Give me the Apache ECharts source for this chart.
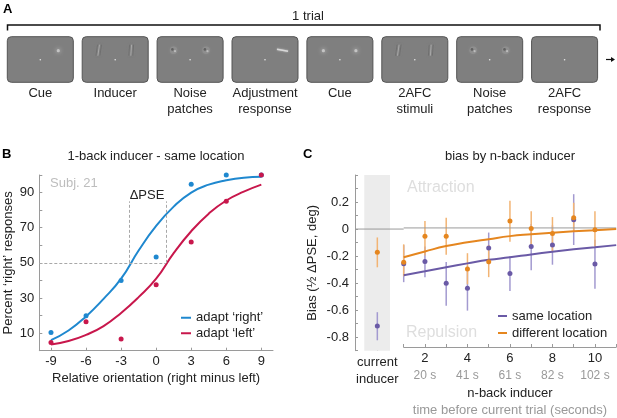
<!DOCTYPE html>
<html>
<head>
<meta charset="utf-8">
<script src="https://cdn.jsdelivr.net/npm/echarts@6.0.0/dist/echarts.min.js"></script>
<style>
  html, body { margin: 0; padding: 0; background: #fff; }
  #chart { width: 617px; height: 418px; }
</style>
</head>
<body>
<div id="chart"></div>
<script>
// ---- panel A: trial sequence ----
const frameLabels = ['Cue', 'Inducer', 'Noise\npatches', 'Adjustment\nresponse', 'Cue', '2AFC\nstimuli', 'Noise\npatches', '2AFC\nresponse'];
const frameStimuli = ['cue1', 'gabor', 'noise', 'adjust', 'cue2', 'gabor', 'noise', 'none'];

// ---- panel B: psychometric curves, subject 21 ----
const orientations = [-9, -6, -3, 0, 3, 6, 9];
const adaptRight = [10.3, 19.9, 40, 53.4, 94.7, 100, 100];
const adaptLeft = [4.6, 16.5, 6.7, 37.6, 61.8, 85, 100];
const fitOrient = [-9, -7.5, -6, -4.5, -3, -1.5, 0, 1.5, 3, 4.5, 6, 7.5, 9];
const adaptRightFit = [6, 11.5, 19.5, 29.5, 41, 57, 71, 82, 90, 94.5, 97, 98.5, 99];
const adaptLeftFit = [3.5, 5.5, 9, 14, 21.5, 30.5, 41, 55.5, 68, 78, 85.5, 90.5, 94.5];
const pseRight = -2.3;
const pseLeft = 0.84;
const pseTop = 85;

// ---- panel C: bias by n-back inducer ----
const nBack = [1, 2, 3, 4, 5, 6, 7, 8, 9, 10];
const sameMean = [-0.27, -0.253, -0.419, -0.456, -0.151, -0.345, -0.141, -0.129, 0.062, -0.273];
const sameLow = [-0.41, -0.372, -0.588, -0.625, -0.278, -0.476, -0.32, -0.278, -0.129, -0.46];
const sameHigh = [-0.13, -0.14, -0.258, -0.29, -0.035, -0.215, 0.03, 0.02, 0.255, -0.09];
const diffMean = [-0.26, -0.062, -0.062, -0.31, -0.256, 0.052, -0.005, -0.042, 0.077, -0.013];
const diffLow = [-0.365, -0.208, -0.203, -0.426, -0.372, -0.104, -0.141, -0.178, -0.03, -0.141];
const diffHigh = [-0.124, 0.052, 0.077, -0.191, -0.13, 0.205, 0.126, 0.082, 0.19, 0.126];
const fitN = [1, 2, 3, 4, 5, 6, 7, 8, 9, 10, 11];
const sameFit = [-0.357, -0.327, -0.297, -0.268, -0.241, -0.222, -0.2, -0.18, -0.162, -0.146, -0.13];
const diffFit = [-0.222, -0.178, -0.137, -0.109, -0.085, -0.062, -0.048, -0.036, -0.026, -0.018, -0.008];
const currentX = -0.24;
const currentSame = [-0.717, -0.823, -0.615]; // mean, low, high
const currentDiff = [-0.171, -0.283, -0.062];
const currentRange = [-1.29, 1];
const currentBand = [-0.854, 0.355];
const biasRange = [-0.9, 0.4];
const nBackTicks = [2, 4, 6, 8, 10];
const secondsLabels = ['20 s', '41 s', '61 s', '82 s', '102 s'];

const FONT = '"Liberation Sans", Arial, Helvetica, sans-serif';
const INK = '#222';
const AXIS = '#9a9a9a';
const BLUE = '#1f88cf';
const RED = '#c8174c';
const PURPLE = '#6a5aa6';
const ORANGE = '#e5861f';
const PURPLE_LIGHT = '#a39ad0';
const ORANGE_LIGHT = '#f2b474';

const zip = (xs, ys) => xs.map((x, i) => [x, ys[i]]);

// simple drawn stimuli inside the grey screens
function stimulusShapes(kind, x0, y0) {
  const L = [x0 + 16.5, y0 + 13.5];
  const R = [x0 + 49, y0 + 13.5];
  const blob = (p) => ({
    type: 'circle', shape: { cx: p[0], cy: p[1], r: 1.6 },
    style: { fill: '#c4c4c4', shadowBlur: 4, shadowColor: '#d8d8d8' }
  });
  const gabor = (p, tilt) => [-2, 0, 2].map((d, k) => ({
    type: 'line',
    shape: { x1: p[0] + d + tilt, y1: p[1] - 5.5, x2: p[0] + d - tilt, y2: p[1] + 5.5 },
    style: { stroke: k === 1 ? '#b4b4b4' : '#6a6a6a', lineWidth: 1, opacity: 0.8, shadowBlur: 2, shadowColor: '#888' }
  }));
  const noise = (p) => [
    { type: 'circle', shape: { cx: p[0], cy: p[1], r: 3.8 }, style: { fill: '#8f8f8f', shadowBlur: 3, shadowColor: '#8a8a8a' } },
    { type: 'circle', shape: { cx: p[0] - 1.2, cy: p[1] - 0.8, r: 1.3 }, style: { fill: '#555', opacity: 0.8 } },
    { type: 'circle', shape: { cx: p[0] + 1.4, cy: p[1] + 1, r: 1.1 }, style: { fill: '#c8c8c8', opacity: 0.8 } }
  ];
  switch (kind) {
    case 'cue1': return [blob([x0 + 51, y0 + 14])];
    case 'cue2': return [blob([L[0], L[1] + 0.5]), blob([R[0], R[1] + 0.5])];
    case 'gabor': return gabor(L, 0.8).concat(gabor(R, 0.4));
    case 'noise': return noise(L).concat(noise(R));
    case 'adjust': return [{
      type: 'line', shape: { x1: x0 + 45, y1: y0 + 12.5, x2: x0 + 56, y2: y0 + 14.5 },
      style: { stroke: '#d8d8d8', lineWidth: 1.4, shadowBlur: 2, shadowColor: '#ccc' }
    }];
    default: return [];
  }
}

function panelA() {
  const els = [];
  frameLabels.forEach((label, i) => {
    const x0 = 7.3 + i * 74.9;
    const y0 = 36.7;
    els.push({
      type: 'rect', shape: { x: x0, y: y0, width: 66, height: 45.6, r: 4 },
      style: { fill: '#7f7f7f', stroke: '#545454', lineWidth: 1 }
    });
    stimulusShapes(frameStimuli[i], x0, y0).forEach(s => els.push(s));
    els.push({ type: 'circle', shape: { cx: x0 + 33, cy: y0 + 23, r: 0.8 }, style: { fill: '#e8e8e8' } });
    els.push({
      type: 'text', x: x0 + 33, y: 86,
      style: { text: label, align: 'center', verticalAlign: 'top', fontSize: 13, lineHeight: 15.5, fill: INK, fontFamily: FONT }
    });
  });
  els.push({
    type: 'polyline', shape: { points: [[7.5, 30.5], [7.5, 25], [600, 25], [600, 30.5]] },
    style: { stroke: '#111', lineWidth: 1.5, fill: null }
  });
  els.push({
    type: 'text', x: 308, y: 16,
    style: { text: '1 trial', align: 'center', verticalAlign: 'middle', fontSize: 13, fill: INK, fontFamily: FONT }
  });
  els.push({ type: 'line', shape: { x1: 606, y1: 59.5, x2: 612, y2: 59.5 }, style: { stroke: '#111', lineWidth: 1.2 } });
  els.push({ type: 'polygon', shape: { points: [[611, 57], [615, 59.5], [611, 62]] }, style: { fill: '#111' } });
  return els;
}

function note(text, x, y, opts) {
  return {
    type: 'text', x: x, y: y,
    style: Object.assign({ text: text, verticalAlign: 'middle', fontSize: 13, fill: INK, fontFamily: FONT }, opts || {})
  };
}

function errorBar(color) {
  return function (params, api) {
    const hi = api.coord([api.value(0), api.value(2)]);
    const lo = api.coord([api.value(0), api.value(1)]);
    return {
      type: 'line',
      shape: { x1: hi[0], y1: hi[1], x2: lo[0], y2: lo[1] },
      style: { stroke: color, lineWidth: 1.5 }
    };
  };
}

// shaded column behind the current-inducer point, with the zero rule on top of it
function bandRect(params, api) {
  const tl = api.coord([api.value(0), biasRange[1]]);
  const br = api.coord([api.value(1), biasRange[0]]);
  const z0 = api.coord([currentRange[0], 0]);
  const z1 = api.coord([currentRange[1], 0]);
  return {
    type: 'group',
    children: [
      {
        type: 'rect',
        shape: { x: tl[0], y: tl[1], width: br[0] - tl[0], height: br[1] - tl[1] },
        style: { fill: '#ececec' }
      },
      {
        type: 'line', z2: 10,
        shape: { x1: z0[0], y1: z0[1], x2: z1[0], y2: z1[1] },
        style: { stroke: AXIS, lineWidth: 1 }
      }
    ]
  };
}

// horizontal reference line at zero, drawn from [xFrom, xTo]
function zeroRule(params, api) {
  const a = api.coord([api.value(0), 0]);
  const b = api.coord([api.value(1), 0]);
  return {
    type: 'line',
    shape: { x1: a[0], y1: a[1], x2: b[0], y2: b[1] },
    style: { stroke: AXIS, lineWidth: 1 }
  };
}

function zeroSeries(idx, range) {
  return {
    type: 'custom', xAxisIndex: idx, yAxisIndex: idx, z: 3, silent: true,
    renderItem: zeroRule, encode: { x: [0, 1] },
    data: [[range[0], range[1]]]
  };
}

const labelStyle = { color: INK, fontSize: 13, fontFamily: FONT };
const axisLineStyle = { onZero: false, lineStyle: { color: AXIS, width: 1 } };
const tickStyle = { inside: true, length: 3, lineStyle: { color: AXIS } };

const chart = echarts.init(document.getElementById('chart'), null, { renderer: 'canvas' });

const option = {
  animation: false,
  textStyle: { fontFamily: FONT },
  title: [
    { text: 'A', left: 3, top: 3, padding: 0, textStyle: { fontSize: 13, fontWeight: 'bold', color: '#000', fontFamily: FONT } },
    { text: 'B', left: 2, top: 148, padding: 0, textStyle: { fontSize: 13, fontWeight: 'bold', color: '#000', fontFamily: FONT } },
    { text: 'C', left: 303, top: 148, padding: 0, textStyle: { fontSize: 13, fontWeight: 'bold', color: '#000', fontFamily: FONT } },
    { text: '1-back inducer - same location', left: 156, top: 150, textAlign: 'center', padding: 0,
      textStyle: { fontSize: 13, fontWeight: 'normal', color: INK, fontFamily: FONT } },
    { text: 'bias by n-back inducer', left: 510, top: 150, textAlign: 'center', padding: 0,
      textStyle: { fontSize: 13, fontWeight: 'normal', color: INK, fontFamily: FONT } }
  ],
  legend: [
    {
      data: ['adapt ‘right’', 'adapt ‘left’'], orient: 'vertical', left: 181, top: 310, padding: 0,
      icon: 'rect', itemWidth: 10, itemHeight: 2, itemGap: 0,
      textStyle: { fontSize: 13, lineHeight: 15.5, color: INK, fontFamily: FONT }
    },
    {
      data: ['same location', 'different location'], orient: 'vertical', left: 498, top: 307.5, padding: 0,
      icon: 'rect', itemWidth: 9, itemHeight: 2, itemGap: 0,
      textStyle: { fontSize: 13, lineHeight: 17, color: INK, fontFamily: FONT }
    }
  ],
  grid: [
    { left: 39.3, top: 175, width: 233.7, height: 175.7 },
    { left: 355, top: 175, width: 48.7, height: 175.7 },
    { left: 403.7, top: 175, width: 212.5, height: 175.7 }
  ],
  xAxis: [
    {
      gridIndex: 0, type: 'value', min: -10, max: 10,
      axisLine: axisLineStyle, splitLine: { show: false },
      axisTick: Object.assign({ customValues: orientations }, tickStyle),
      axisLabel: Object.assign({ customValues: orientations, margin: 4 }, labelStyle),
      name: 'Relative orientation (right minus left)', nameLocation: 'middle', nameGap: 20,
      nameTextStyle: { fontSize: 13, color: INK, lineHeight: 15, fontFamily: FONT }
    },
    {
      gridIndex: 1, type: 'value', min: currentRange[0], max: currentRange[1],
      axisLine: { show: false, onZero: false }, splitLine: { show: false },
      axisTick: Object.assign({ customValues: [currentX] }, tickStyle),
      axisLabel: {
        customValues: [currentX], margin: 3, formatter: () => '{a|current}\n{a|inducer}',
        rich: { a: { fontSize: 13, color: INK, lineHeight: 17, fontFamily: FONT } }
      }
    },
    {
      gridIndex: 2, type: 'value', min: 1, max: 11, interval: 1,
      axisLine: axisLineStyle, splitLine: { show: false },
      axisTick: tickStyle,
      axisLabel: {
        customValues: nBackTicks, margin: 3,
        formatter: (v) => '{n|' + v + '}\n{s|' + secondsLabels[nBackTicks.indexOf(v)] + '}',
        rich: {
          n: { fontSize: 13, color: INK, lineHeight: 17, fontFamily: FONT },
          s: { fontSize: 12, color: '#999', lineHeight: 17, fontFamily: FONT }
        }
      },
      name: '{a|n-back inducer}\n{b|time before current trial (seconds)}',
      nameLocation: 'middle', nameGap: 38,
      nameTextStyle: {
        rich: {
          a: { fontSize: 13, color: INK, lineHeight: 17, fontFamily: FONT },
          b: { fontSize: 13, color: '#999', lineHeight: 17, fontFamily: FONT }
        }
      }
    }
  ],
  yAxis: [
    {
      gridIndex: 0, type: 'value', min: 0, max: 100, interval: 10,
      axisLine: Object.assign({ show: true }, axisLineStyle), splitLine: { show: false },
      axisTick: tickStyle,
      axisLabel: Object.assign({ customValues: [10, 30, 50, 70, 90], margin: 5 }, labelStyle),
      name: 'Percent ‘right’ responses', nameLocation: 'middle', nameGap: 24,
      nameTextStyle: { fontSize: 13, color: INK, fontFamily: FONT }
    },
    {
      gridIndex: 1, type: 'value', min: biasRange[0], max: biasRange[1], interval: 0.1,
      axisLine: Object.assign({ show: true }, axisLineStyle), splitLine: { show: false },
      axisTick: tickStyle,
      axisLabel: Object.assign({
        customValues: [-0.8, -0.6, -0.4, -0.2, 0, 0.2], margin: 6,
        formatter: (v) => (Math.abs(v) < 1e-9 ? '0' : v.toFixed(1))
      }, labelStyle),
      name: 'Bias (½ ΔPSE, deg)', nameLocation: 'middle', nameGap: 36,
      nameTextStyle: { fontSize: 13, color: INK, fontFamily: FONT }
    },
    { gridIndex: 2, type: 'value', min: biasRange[0], max: biasRange[1], show: false }
  ],
  series: [
    // panel B
    {
      name: 'adapt ‘right’', type: 'line', xAxisIndex: 0, yAxisIndex: 0, z: 3,
      data: zip(fitOrient, adaptRightFit), smooth: true, showSymbol: false,
      itemStyle: { color: BLUE }, lineStyle: { color: BLUE, width: 2 },
      markLine: {
        silent: true, symbol: 'none', label: { show: false },
        lineStyle: { color: '#a8a8a8', type: [3, 2], width: 1 },
        data: [
          [{ coord: [-10, 50] }, { coord: [pseLeft, 50] }],
          [{ coord: [pseRight, 50] }, { coord: [pseRight, pseTop] }],
          [{ coord: [pseLeft, 50] }, { coord: [pseLeft, pseTop] }]
        ]
      }
    },
    {
      name: 'adapt ‘left’', type: 'line', xAxisIndex: 0, yAxisIndex: 0, z: 3,
      data: zip(fitOrient, adaptLeftFit), smooth: true, showSymbol: false,
      itemStyle: { color: RED }, lineStyle: { color: RED, width: 2 }
    },
    {
      name: 'adapt ‘right’', type: 'scatter', xAxisIndex: 0, yAxisIndex: 0, z: 4,
      data: zip(orientations, adaptRight), symbolSize: 5, itemStyle: { color: BLUE, opacity: 1 }
    },
    {
      name: 'adapt ‘left’', type: 'scatter', xAxisIndex: 0, yAxisIndex: 0, z: 4,
      data: zip(orientations, adaptLeft), symbolSize: 5, itemStyle: { color: RED, opacity: 1 }
    },
    // panel C, current inducer
    {
      type: 'custom', xAxisIndex: 1, yAxisIndex: 1, z: 1, silent: true,
      renderItem: bandRect, encode: { x: [0, 1] },
      data: [[currentBand[0], currentBand[1]]]
    },
    {
      name: 'same location', type: 'custom', xAxisIndex: 1, yAxisIndex: 1, z: 2,
      renderItem: errorBar(PURPLE_LIGHT), itemStyle: { color: PURPLE },
      encode: { x: 0, y: [1, 2] },
      data: [[currentX, currentSame[1], currentSame[2]]]
    },
    {
      name: 'different location', type: 'custom', xAxisIndex: 1, yAxisIndex: 1, z: 2,
      renderItem: errorBar(ORANGE_LIGHT), itemStyle: { color: ORANGE },
      encode: { x: 0, y: [1, 2] },
      data: [[currentX, currentDiff[1], currentDiff[2]]]
    },
    {
      name: 'same location', type: 'scatter', xAxisIndex: 1, yAxisIndex: 1, z: 4,
      data: [[currentX, currentSame[0]]], symbolSize: 5, itemStyle: { color: PURPLE, opacity: 1 }
    },
    {
      name: 'different location', type: 'scatter', xAxisIndex: 1, yAxisIndex: 1, z: 4,
      data: [[currentX, currentDiff[0]]], symbolSize: 5, itemStyle: { color: ORANGE, opacity: 1 }
    },
    // panel C, n-back
    zeroSeries(2, [1, 11]),
    {
      name: 'same location', type: 'custom', xAxisIndex: 2, yAxisIndex: 2, z: 2,
      renderItem: errorBar(PURPLE_LIGHT), itemStyle: { color: PURPLE },
      encode: { x: 0, y: [1, 2] },
      data: nBack.map((n, i) => [n, sameLow[i], sameHigh[i]])
    },
    {
      name: 'different location', type: 'custom', xAxisIndex: 2, yAxisIndex: 2, z: 2,
      renderItem: errorBar(ORANGE_LIGHT), itemStyle: { color: ORANGE },
      encode: { x: 0, y: [1, 2] },
      data: nBack.map((n, i) => [n, diffLow[i], diffHigh[i]])
    },
    {
      name: 'same location', type: 'line', xAxisIndex: 2, yAxisIndex: 2, z: 3,
      data: zip(fitN, sameFit), smooth: true, showSymbol: false,
      itemStyle: { color: PURPLE }, lineStyle: { color: PURPLE, width: 2 }
    },
    {
      name: 'different location', type: 'line', xAxisIndex: 2, yAxisIndex: 2, z: 3,
      data: zip(fitN, diffFit), smooth: true, showSymbol: false,
      itemStyle: { color: ORANGE }, lineStyle: { color: ORANGE, width: 2 }
    },
    {
      name: 'same location', type: 'scatter', xAxisIndex: 2, yAxisIndex: 2, z: 4,
      data: zip(nBack, sameMean), symbolSize: 5, itemStyle: { color: PURPLE, opacity: 1 }
    },
    {
      name: 'different location', type: 'scatter', xAxisIndex: 2, yAxisIndex: 2, z: 4,
      data: zip(nBack, diffMean), symbolSize: 5, itemStyle: { color: ORANGE, opacity: 1 }
    }
  ],
  graphic: panelA().concat([
    note('Subj. 21', 50, 183, { fill: '#bdbdbd' }),
    note('ΔPSE', 147, 195, { align: 'center' }),
    note('Attraction', 407, 188, { fill: '#dedede', fontSize: 16 }),
    note('Repulsion', 406, 333, { fill: '#dedede', fontSize: 16 })
  ])
};

chart.setOption(option);
window.addEventListener('resize', chart.resize);
</script>
</body>
</html>
